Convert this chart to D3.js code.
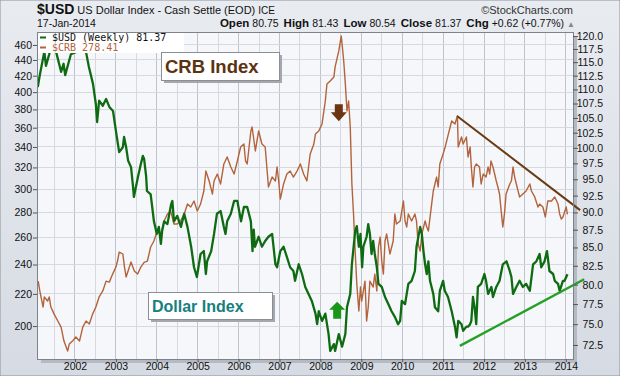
<!DOCTYPE html>
<html lang="en">
<head>
<meta charset="UTF-8">
<title>$USD vs $CRB</title>
<script src="https://cdn.jsdelivr.net/npm/d3@7/dist/d3.min.js"></script>
<style>
  body { margin: 0; background: #fff; }
  svg { display: block; font-family: Arial, "Liberation Sans", sans-serif; }
</style>
</head>
<body>
<svg></svg>
<script>
  const width = 620, height = 376;
  const plot = { left: 37, right: 573, top: 32, bottom: 359 };

  // ticks
  const yearTicks = [2002, 2003, 2004, 2005, 2006, 2007, 2008, 2009, 2010, 2011, 2012, 2013, 2014];
  const crbTicks = [200, 220, 240, 260, 280, 300, 320, 340, 360, 380, 400, 420, 440, 460];
  const usdTicks = [72.5, 75, 77.5, 80, 82.5, 85, 87.5, 90, 92.5, 95, 97.5, 100, 102.5, 105, 107.5, 110, 112.5, 115, 117.5, 120];

  // $USD weekly (decimal year / close)
  const usdDates = [
    2001.09, 2001.13, 2001.25, 2001.29, 2001.37, 2001.45, 2001.50, 2001.54, 2001.66, 2001.72,
    2001.76, 2001.90, 2002.02, 2002.10, 2002.17, 2002.27, 2002.34, 2002.44, 2002.51, 2002.54,
    2002.59, 2002.68, 2002.76, 2002.84, 2002.93, 2003.00, 2003.08, 2003.17, 2003.20, 2003.25,
    2003.30, 2003.37, 2003.42, 2003.44, 2003.54, 2003.61, 2003.66, 2003.69, 2003.74, 2003.76,
    2003.85, 2003.88, 2003.93, 2004.00, 2004.05, 2004.10, 2004.13, 2004.18, 2004.26, 2004.35,
    2004.38, 2004.42, 2004.50, 2004.59, 2004.67, 2004.75, 2004.84, 2004.91, 2004.98, 2005.07,
    2005.15, 2005.20, 2005.23, 2005.33, 2005.40, 2005.47, 2005.56, 2005.64, 2005.68, 2005.72,
    2005.81, 2005.89, 2005.97, 2006.06, 2006.13, 2006.21, 2006.30, 2006.34, 2006.37, 2006.40,
    2006.49, 2006.57, 2006.65, 2006.73, 2006.82, 2006.90, 2006.94, 2007.02, 2007.10, 2007.18,
    2007.26, 2007.34, 2007.38, 2007.47, 2007.55, 2007.63, 2007.71, 2007.79, 2007.88, 2007.92,
    2007.96, 2008.04, 2008.12, 2008.20, 2008.24, 2008.33, 2008.36, 2008.45, 2008.53, 2008.61,
    2008.65, 2008.73, 2008.77, 2008.85, 2008.89, 2008.94, 2008.98, 2009.02, 2009.05, 2009.13,
    2009.17, 2009.21, 2009.25, 2009.29, 2009.33, 2009.38, 2009.42, 2009.50, 2009.58, 2009.66,
    2009.74, 2009.82, 2009.90, 2009.95, 2009.99, 2010.07, 2010.15, 2010.23, 2010.31, 2010.35,
    2010.44, 2010.48, 2010.52, 2010.56, 2010.60, 2010.64, 2010.68, 2010.76, 2010.80, 2010.88,
    2010.92, 2011.00, 2011.04, 2011.12, 2011.21, 2011.29, 2011.33, 2011.37, 2011.45, 2011.49,
    2011.57, 2011.61, 2011.66, 2011.69, 2011.73, 2011.77, 2011.81, 2011.85, 2011.93, 2012.01,
    2012.05, 2012.10, 2012.18, 2012.22, 2012.30, 2012.38, 2012.46, 2012.55, 2012.63, 2012.67,
    2012.71, 2012.79, 2012.87, 2012.95, 2013.03, 2013.12, 2013.20, 2013.28, 2013.36, 2013.40,
    2013.48, 2013.54, 2013.60, 2013.69, 2013.73, 2013.81, 2013.85, 2013.93, 2013.97, 2014.04
  ];
  const usdClose = [
    110.4, 112.2, 117.0, 114.3, 116.5, 119.0, 120.3, 116.9, 113.2, 114.7,
    112.6, 116.5, 116.9, 119.5, 120.2, 116.9, 114.1, 111.0, 107.4, 104.3,
    108.0, 107.1, 108.3, 106.9, 106.2, 102.8, 99.3, 100.1, 101.8, 100.1,
    97.9, 96.9, 93.8, 92.3, 95.4, 97.4, 98.7, 98.2, 95.4, 93.2,
    92.7, 91.2, 88.7, 86.9, 87.9, 85.5, 87.3, 88.7, 88.3, 91.2,
    91.7, 88.7, 89.5, 87.9, 89.8, 87.9, 85.1, 82.3, 81.0, 84.1,
    84.5, 81.4, 83.1, 84.5, 86.9, 89.8, 90.2, 87.9, 86.9, 88.7,
    89.8, 91.7, 91.7, 88.7, 90.8, 90.8, 88.7, 84.5, 87.5, 85.1,
    86.5, 85.1, 85.9, 86.5, 86.9, 82.7, 82.3, 84.5, 85.1, 83.7,
    82.3, 81.8, 80.5, 82.7, 81.4, 79.7, 78.8, 77.9, 76.3, 75.0,
    76.6, 75.4, 76.3, 73.8, 71.8, 72.6, 71.8, 73.8, 72.3, 73.8,
    77.1, 78.8, 82.7, 87.3, 88.0, 85.1, 86.9, 82.3, 85.1, 86.5,
    88.3, 86.9, 84.1, 85.9, 84.1, 82.3, 80.1, 79.7, 78.4, 77.5,
    76.6, 75.9, 75.0, 75.4, 77.9, 77.5, 80.1, 80.5, 81.8, 85.1,
    87.9, 86.9, 84.5, 82.7, 81.4, 83.1, 80.5, 78.8, 77.1, 76.6,
    79.2, 80.5, 79.2, 78.4, 76.6, 74.7, 73.4, 75.4, 75.0, 74.2,
    74.7, 74.7, 75.0, 75.4, 78.4, 77.1, 75.0, 79.7, 80.1, 81.4,
    80.5, 78.8, 79.7, 78.4, 79.7, 80.5, 82.7, 83.1, 81.8, 81.0,
    78.8, 79.7, 80.5, 79.7, 80.1, 79.2, 82.7, 83.1, 84.1, 82.3,
    83.1, 84.5, 81.8, 81.4, 80.5, 80.1, 79.2, 80.5, 80.5, 81.37
  ];

  // $CRB weekly
  const crbDates = [
    2001.10, 2001.14, 2001.22, 2001.25, 2001.33, 2001.37, 2001.41, 2001.49, 2001.58, 2001.66,
    2001.73, 2001.82, 2001.86, 2001.94, 2002.02, 2002.11, 2002.19, 2002.27, 2002.35, 2002.43,
    2002.51, 2002.59, 2002.68, 2002.76, 2002.84, 2002.92, 2003.00, 2003.04, 2003.08, 2003.17,
    2003.21, 2003.25, 2003.33, 2003.37, 2003.45, 2003.53, 2003.61, 2003.69, 2003.77, 2003.85,
    2003.93, 2004.01, 2004.10, 2004.18, 2004.26, 2004.34, 2004.42, 2004.50, 2004.58, 2004.67,
    2004.75, 2004.83, 2004.91, 2004.99, 2005.07, 2005.15, 2005.20, 2005.28, 2005.36, 2005.40,
    2005.48, 2005.56, 2005.64, 2005.72, 2005.81, 2005.89, 2005.97, 2006.05, 2006.13, 2006.17,
    2006.21, 2006.30, 2006.33, 2006.41, 2006.49, 2006.57, 2006.65, 2006.69, 2006.73, 2006.82,
    2006.90, 2006.94, 2006.98, 2007.02, 2007.10, 2007.18, 2007.26, 2007.34, 2007.43, 2007.51,
    2007.59, 2007.67, 2007.75, 2007.84, 2007.88, 2007.96, 2008.04, 2008.12, 2008.16, 2008.24,
    2008.33, 2008.36, 2008.45, 2008.51, 2008.57, 2008.61, 2008.65, 2008.69, 2008.73, 2008.77,
    2008.81, 2008.85, 2008.89, 2008.94, 2008.98, 2009.01, 2009.09, 2009.13, 2009.17, 2009.21,
    2009.29, 2009.33, 2009.38, 2009.42, 2009.46, 2009.50, 2009.54, 2009.58, 2009.62, 2009.66,
    2009.70, 2009.78, 2009.82, 2009.86, 2009.95, 2010.03, 2010.07, 2010.11, 2010.15, 2010.23,
    2010.31, 2010.35, 2010.39, 2010.44, 2010.48, 2010.56, 2010.60, 2010.64, 2010.72, 2010.76,
    2010.84, 2010.88, 2010.92, 2011.00, 2011.05, 2011.13, 2011.21, 2011.29, 2011.35, 2011.37,
    2011.45, 2011.49, 2011.57, 2011.61, 2011.66, 2011.69, 2011.73, 2011.77, 2011.81, 2011.89,
    2011.93, 2011.98, 2012.05, 2012.10, 2012.14, 2012.17, 2012.22, 2012.30, 2012.34, 2012.38,
    2012.42, 2012.46, 2012.50, 2012.54, 2012.63, 2012.67, 2012.71, 2012.75, 2012.79, 2012.87,
    2012.95, 2013.03, 2013.12, 2013.16, 2013.24, 2013.32, 2013.36, 2013.44, 2013.50, 2013.56,
    2013.65, 2013.73, 2013.81, 2013.85, 2013.89, 2013.93, 2014.01, 2014.04
  ];
  const crbClose = [
    228.5, 221.9, 211.6, 218.0, 215.4, 218.0, 211.6, 207.2, 203.0, 199.4,
    191.3, 185.7, 189.6, 191.3, 193.6, 191.3, 199.4, 203.0, 201.2, 207.2,
    211.6, 218.0, 221.9, 228.5, 227.8, 233.3, 238.2, 242.5, 249.0, 247.6,
    238.2, 231.3, 238.2, 241.8, 235.4, 233.3, 238.2, 241.5, 242.5, 252.8,
    257.3, 265.0, 262.7, 273.0, 278.8, 281.2, 270.6, 270.6, 273.0, 278.8,
    287.1, 284.6, 289.7, 281.2, 287.1, 298.4, 316.6, 307.4, 295.8, 307.4,
    313.8, 304.7, 323.3, 330.1, 320.4, 313.8, 326.2, 340.0, 343.0, 326.2,
    323.3, 356.5, 360.7, 336.0, 356.5, 343.0, 340.0, 320.4, 302.0, 311.0,
    307.4, 320.4, 307.4, 291.4, 304.7, 313.8, 316.6, 311.0, 316.6, 323.3,
    313.8, 307.4, 333.0, 343.0, 353.4, 356.5, 364.0, 389.6, 409.8, 413.4,
    418.4, 431.0, 451.9, 472.5, 438.7, 409.8, 378.3, 389.6, 360.7, 304.7,
    278.8, 249.8, 226.5, 209.1, 224.5, 215.4, 228.5, 203.0, 211.6, 228.5,
    224.5, 233.3, 221.9, 252.8, 260.4, 242.5, 233.3, 257.3, 262.7, 255.0,
    247.6, 257.3, 278.8, 270.6, 273.0, 289.7, 273.0, 268.2, 278.8, 273.0,
    278.8, 273.0, 255.0, 249.8, 262.7, 273.0, 268.2, 265.0, 287.1, 298.4,
    311.0, 302.0, 323.3, 333.0, 340.0, 353.4, 367.2, 364.0, 372.7, 340.0,
    350.2, 343.0, 350.2, 330.1, 340.0, 320.4, 302.0, 320.4, 323.3, 320.4,
    304.7, 313.8, 311.0, 320.4, 313.8, 326.2, 320.4, 307.4, 302.0, 295.8,
    281.2, 268.2, 278.8, 295.8, 304.7, 307.4, 320.4, 311.0, 304.7, 293.2,
    295.8, 298.4, 304.7, 298.4, 293.2, 284.6, 287.1, 284.6, 276.3, 289.7,
    289.7, 293.2, 287.1, 278.8, 274.6, 276.3, 284.6, 278.41
  ];

  // drawn trend lines: [year, value]
  const crbTrend = [[2011.34, 372.7], [2014.35, 282.0]];
  const usdTrend = [[2011.41, 72.4], [2014.45, 80.7]];

  const usd = usdDates.map((d, i) => [d, usdClose[i]]);
  const crb = crbDates.map((d, i) => [d, crbClose[i]]);

  const x = d3.scaleLinear().domain([2001.071, 2014.176]).range([plot.left, plot.right]);
  const yL = d3.scaleLog().domain([181.4, 478]).range([plot.bottom, plot.top]);
  const yR = d3.scaleLog().domain([70.86, 120.8]).range([plot.bottom, plot.top]);

  const svg = d3.select('svg').attr('width', width).attr('height', height);
  const defs = svg.append('defs');
  const bg = defs.append('linearGradient').attr('id', 'bg').attr('x1', 0).attr('y1', 0).attr('x2', 0).attr('y2', 1);
  bg.append('stop').attr('offset', '0%').attr('stop-color', '#e8ebf0');
  bg.append('stop').attr('offset', '100%').attr('stop-color', '#d6dbe3');
  defs.append('clipPath').attr('id', 'clip').append('rect')
    .attr('x', plot.left).attr('y', plot.top)
    .attr('width', plot.right - plot.left).attr('height', plot.bottom - plot.top);

  svg.append('rect').attr('width', width).attr('height', height)
    .attr('fill', 'url(#bg)').attr('stroke', '#8c929c');

  // plot panel + shadow
  svg.append('rect').attr('x', plot.left + 4).attr('y', plot.top + 4)
    .attr('width', plot.right - plot.left).attr('height', plot.bottom - plot.top)
    .attr('fill', '#b4b9c2');
  svg.append('rect').attr('x', plot.left).attr('y', plot.top)
    .attr('width', plot.right - plot.left).attr('height', plot.bottom - plot.top)
    .attr('fill', '#f5f7fa');

  // grid
  const halfYears = d3.range(2001.5, 2014.01, 0.5);
  svg.append('g').selectAll('line').data(halfYears).enter().append('line')
    .attr('x1', d => x(d)).attr('x2', d => x(d))
    .attr('y1', plot.top).attr('y2', plot.bottom)
    .attr('stroke', d => d % 1 === 0 ? '#bfc4cc' : '#d6d9e0').attr('stroke-width', 1)
    .attr('shape-rendering', 'crispEdges');
  svg.append('g').selectAll('line').data(crbTicks).enter().append('line')
    .attr('x1', plot.left).attr('x2', plot.right)
    .attr('y1', d => yL(d)).attr('y2', d => yL(d))
    .attr('stroke', '#d6d9e0').attr('shape-rendering', 'crispEdges');

  // series
  const lines = svg.append('g').attr('clip-path', 'url(#clip)');
  lines.append('path').datum(crb)
    .attr('d', d3.line().x(d => x(d[0])).y(d => yL(d[1])))
    .attr('fill', 'none').attr('stroke', '#b3633b').attr('stroke-width', 1.4)
    .attr('stroke-linejoin', 'round');
  lines.append('path').datum(usd)
    .attr('d', d3.line().x(d => x(d[0])).y(d => yR(d[1])))
    .attr('fill', 'none').attr('stroke', '#0f6b12').attr('stroke-width', 2.3)
    .attr('stroke-linejoin', 'round');

  // trend lines
  svg.append('path').datum(crbTrend)
    .attr('d', d3.line().x(d => x(d[0])).y(d => yL(d[1])))
    .attr('stroke', '#6a3a12').attr('stroke-width', 2);
  svg.append('path').datum(usdTrend)
    .attr('d', d3.line().x(d => x(d[0])).y(d => yR(d[1])))
    .attr('stroke', '#24a024').attr('stroke-width', 2.4);

  // arrows
  svg.append('path')
    .attr('transform', `translate(${x(2008.45)},${yL(367)})`)
    .attr('d', 'M-4,-17 L4,-17 L4,-9 L8,-9 L0,0 L-8,-9 L-4,-9 Z')
    .attr('fill', '#6b3510');
  svg.append('path')
    .attr('transform', `translate(${x(2008.41)},${yR(77.8)})`)
    .attr('d', 'M0,0 L8,8 L4,8 L4,17 L-4,17 L-4,8 L-8,8 Z')
    .attr('fill', '#1a961a');

  // frame
  svg.append('rect').attr('x', plot.left).attr('y', plot.top)
    .attr('width', plot.right - plot.left).attr('height', plot.bottom - plot.top)
    .attr('fill', 'none').attr('stroke', '#7d838d').attr('shape-rendering', 'crispEdges');

  // legend
  svg.append('rect').attr('x', plot.left + 1).attr('y', plot.top + 1)
    .attr('width', 146).attr('height', 20).attr('fill', '#fff');
  const legend = [
    { label: '$USD (Weekly) 81.37', color: '#0f6b12', text: '#111', y: plot.top + 9 },
    { label: '$CRB 278.41', color: '#b3633b', text: '#b3633b', y: plot.top + 19 }
  ];
  const lg = svg.append('g').selectAll('g').data(legend).enter().append('g');
  lg.append('line').attr('x1', 40).attr('x2', 46)
    .attr('y1', d => d.y - 3.5).attr('y2', d => d.y - 3.5)
    .attr('stroke', d => d.color).attr('stroke-width', 2);
  lg.append('text').attr('x', 52).attr('y', d => d.y)
    .attr('fill', d => d.text)
    .style('font-family', '"DejaVu Sans Mono", monospace').style('font-size', '10px')
    .text(d => d.label);

  // labelled boxes
  function noteBox(bx, by, bw, bh, label, color, size) {
    svg.append('rect').attr('x', bx + 3).attr('y', by + 3).attr('width', bw).attr('height', bh)
      .attr('fill', '#a3a7ae');
    svg.append('rect').attr('x', bx).attr('y', by).attr('width', bw).attr('height', bh)
      .attr('fill', '#fff').attr('stroke', '#8a8f97').attr('shape-rendering', 'crispEdges');
    svg.append('text').attr('x', bx + 4).attr('y', by + bh - 7)
      .attr('fill', color).style('font-weight', 'bold').style('font-size', size)
      .text(label);
  }
  noteBox(161, 52, 118, 28, 'CRB Index', '#5c3310', '18.5px');
  noteBox(148, 292, 124, 27, 'Dollar Index', '#15807e', '16px');

  // axes
  const axL = svg.append('g').attr('transform', `translate(${plot.left},0)`)
    .call(d3.axisLeft(yL).tickValues(crbTicks).tickFormat(d3.format('d')).tickSize(4).tickPadding(1));
  const axR = svg.append('g').attr('transform', `translate(${plot.right},0)`)
    .call(d3.axisRight(yR).tickValues(usdTicks).tickFormat(d3.format('.1f')).tickSize(5));
  axR.selectAll('text').attr('text-anchor', 'end').attr('x', 30);
  const axB = svg.append('g').attr('transform', `translate(0,${plot.bottom})`)
    .call(d3.axisBottom(x).tickValues(yearTicks).tickFormat(d3.format('d')).tickSize(3).tickPadding(1));
  [axL, axR, axB].forEach(a => {
    a.select('.domain').remove();
    a.selectAll('line').attr('stroke', '#555');
    a.selectAll('text').attr('fill', '#111').style('font-size', '10.5px')
      .style('font-family', 'Arial, "Liberation Sans", sans-serif');
  });

  // header
  const head = svg.append('g').style('font-family', 'Arial, "Liberation Sans", sans-serif');
  const t1 = head.append('text').attr('x', 37).attr('y', 14).attr('fill', '#111');
  t1.append('tspan').style('font-weight', 'bold').style('font-size', '14px').text('$USD');
  t1.append('tspan').attr('dx', 3).style('font-size', '11px').text('US Dollar Index - Cash Settle (EOD)');
  t1.append('tspan').attr('dx', 3).style('font-size', '10px').text('ICE');
  head.append('text').attr('x', 573).attr('y', 14).attr('text-anchor', 'end')
    .attr('fill', '#333').style('font-size', '11px')
    .text('\u00a9StockCharts.com');
  head.append('text').attr('x', 37).attr('y', 27).attr('fill', '#111')
    .style('font-size', '10.5px').text('17-Jan-2014');
  const quote = [['Open', '80.75'], ['High', '81.43'], ['Low', '80.54'], ['Close', '81.37'], ['Chg', '+0.62 (+0.77%)']];
  const t2 = head.append('text').attr('x', 575).attr('y', 27).attr('text-anchor', 'end').attr('fill', '#111');
  quote.forEach((q, i) => {
    t2.append('tspan').attr('dx', i ? 5 : 0).style('font-weight', 'bold').style('font-size', '11.5px').text(q[0]);
    t2.append('tspan').attr('dx', 3).style('font-size', '10.5px').text(q[1]);
  });
  t2.append('tspan').attr('dx', 3).attr('fill', '#888').style('font-size', '8px').text('\u25b2');
</script>
</body>
</html>
